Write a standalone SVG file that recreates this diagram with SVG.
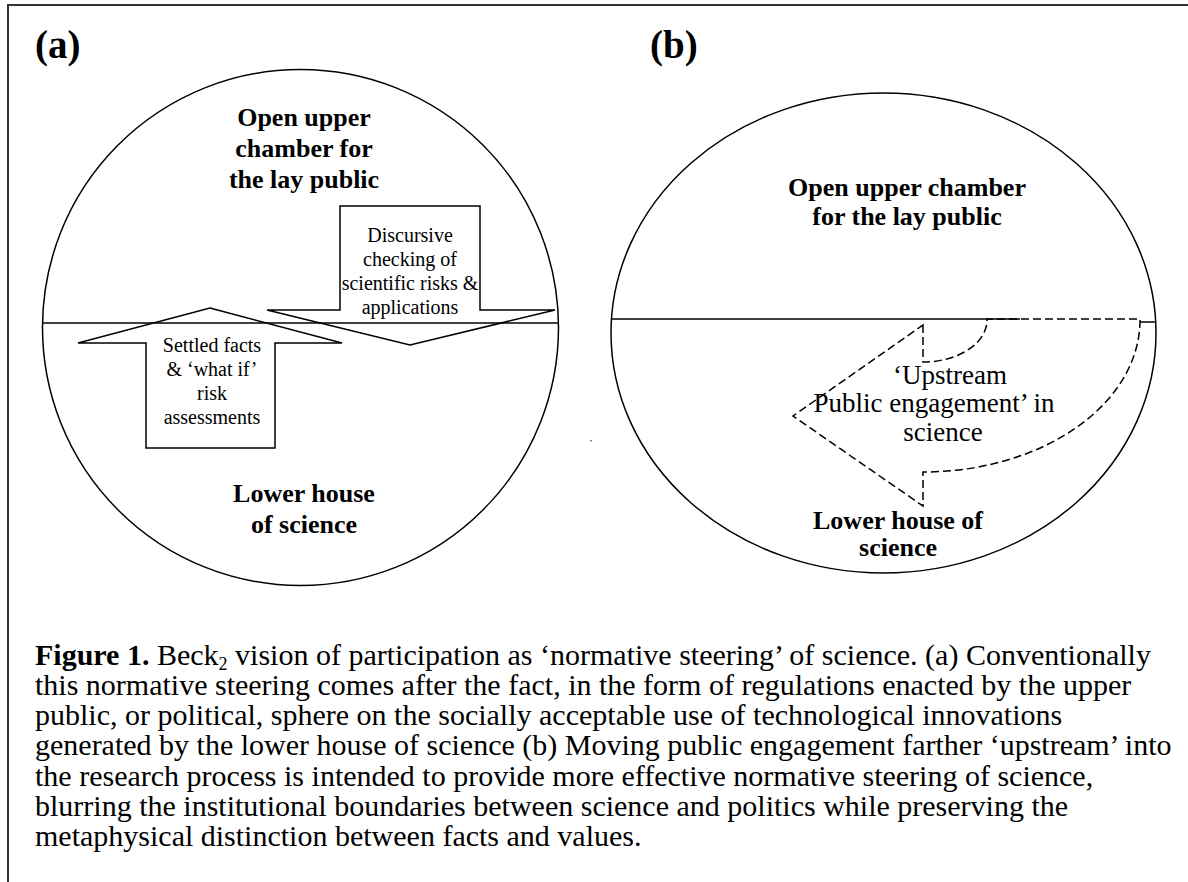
<svg xmlns="http://www.w3.org/2000/svg" width="1188" height="882" viewBox="0 0 1188 882">
<style>
.bd{stroke:#333;stroke-width:2;fill:none}
.ln{stroke:#000;stroke-width:1.5;fill:none}
.ds{stroke:#000;stroke-width:1.5;fill:none;stroke-dasharray:8 4}
.lbl{font-family:"Liberation Serif","Times New Roman",serif;font-weight:bold;font-size:39px;fill:#000}
.ttl{font-family:"Liberation Serif","Times New Roman",serif;font-weight:bold;font-size:26px;fill:#000;text-anchor:middle}
.at{font-family:"Liberation Serif","Times New Roman",serif;font-size:20px;fill:#000;text-anchor:middle}
.bt{font-family:"Liberation Serif","Times New Roman",serif;font-size:27px;fill:#000;text-anchor:middle}
.cap{font-family:"Liberation Serif","Times New Roman",serif;font-size:30px;fill:#000}
</style>
<rect width="1188" height="882" fill="#fff"/>
<path class="bd" d="M8 882 V5 H1188"/>
<text class="lbl" x="35" y="58">(a)</text>
<text class="lbl" x="650" y="58">(b)</text>
<g id="panel-a">
  <circle class="ln" cx="300.5" cy="327.5" r="258"/>
  <line class="ln" x1="42" y1="323" x2="559" y2="323"/>
  <g id="upper-a">
    <text class="ttl" x="304" y="126">Open upper</text>
    <text class="ttl" x="304" y="157">chamber for</text>
    <text class="ttl" x="304" y="188">the lay public</text>
  </g>
  <g id="lower-a">
    <text class="ttl" x="304" y="502">Lower house</text>
    <text class="ttl" x="304" y="533">of science</text>
  </g>
</g>
<g id="connectors">
  <g id="arrow-down">
    <polygon class="ln" points="340,206 480,206 480,310 555,310 410,345 267,310 340,310"/>
    <text class="at" x="410" y="242">Discursive</text>
    <text class="at" x="410" y="266">checking of</text>
    <text class="at" x="410" y="290">scientific risks &amp;</text>
    <text class="at" x="410" y="314">applications</text>
  </g>
  <g id="arrow-up">
    <polygon class="ln" points="210,308 342,343 275,343 275,448 146,448 146,343 78,343"/>
    <text class="at" x="212" y="352">Settled facts</text>
    <text class="at" x="212" y="376">&amp; ‘what if’</text>
    <text class="at" x="212" y="400">risk</text>
    <text class="at" x="212" y="424">assessments</text>
  </g>
  <g id="arrow-upstream">
    <path class="ds" d="M923 325 L923 362 A64 42 0 0 0 987 319 L1140 319 A217 152 0 0 1 923 472 L923 506 L793 416 Z"/>
    <text class="bt" x="950" y="384">‘Upstream</text>
    <text class="bt" x="934" y="412">Public engagement’ in</text>
    <text class="bt" x="943" y="441">science</text>
  </g>
</g>
<g id="panel-b">
  <ellipse class="ln" cx="883.5" cy="333" rx="272.5" ry="240"/>
  <line class="ln" x1="612" y1="319" x2="1020" y2="319"/>
  <line class="ln" x1="1140" y1="322" x2="1156" y2="322"/>
  <g id="upper-b">
    <text class="ttl" x="907" y="196">Open upper chamber</text>
    <text class="ttl" x="907" y="225">for the lay public</text>
  </g>
  <g id="lower-b">
    <text class="ttl" x="898" y="529">Lower house of</text>
    <text class="ttl" x="898" y="556">science</text>
  </g>
</g>
<rect x="590" y="440" width="2" height="1.5" fill="#888"/>
<g id="caption">
  <text class="cap" x="35" y="665"><tspan font-weight="bold">Figure 1.</tspan> Beck<tspan font-size="18" dy="5">2</tspan><tspan dy="-5"> vision of participation as ‘normative steering’ of science. (a) Conventionally</tspan></text>
  <text class="cap" x="35" y="695">this normative steering comes after the fact, in the form of regulations enacted by the upper</text>
  <text class="cap" x="35" y="725">public, or political, sphere on the socially acceptable use of technological innovations</text>
  <text class="cap" x="35" y="755">generated by the lower house of science (b) Moving public engagement farther ‘upstream’ into</text>
  <text class="cap" x="35" y="786">the research process is intended to provide more effective normative steering of science,</text>
  <text class="cap" x="35" y="816">blurring the institutional boundaries between science and politics while preserving the</text>
  <text class="cap" x="35" y="846">metaphysical distinction between facts and values.</text>
</g>
</svg>
